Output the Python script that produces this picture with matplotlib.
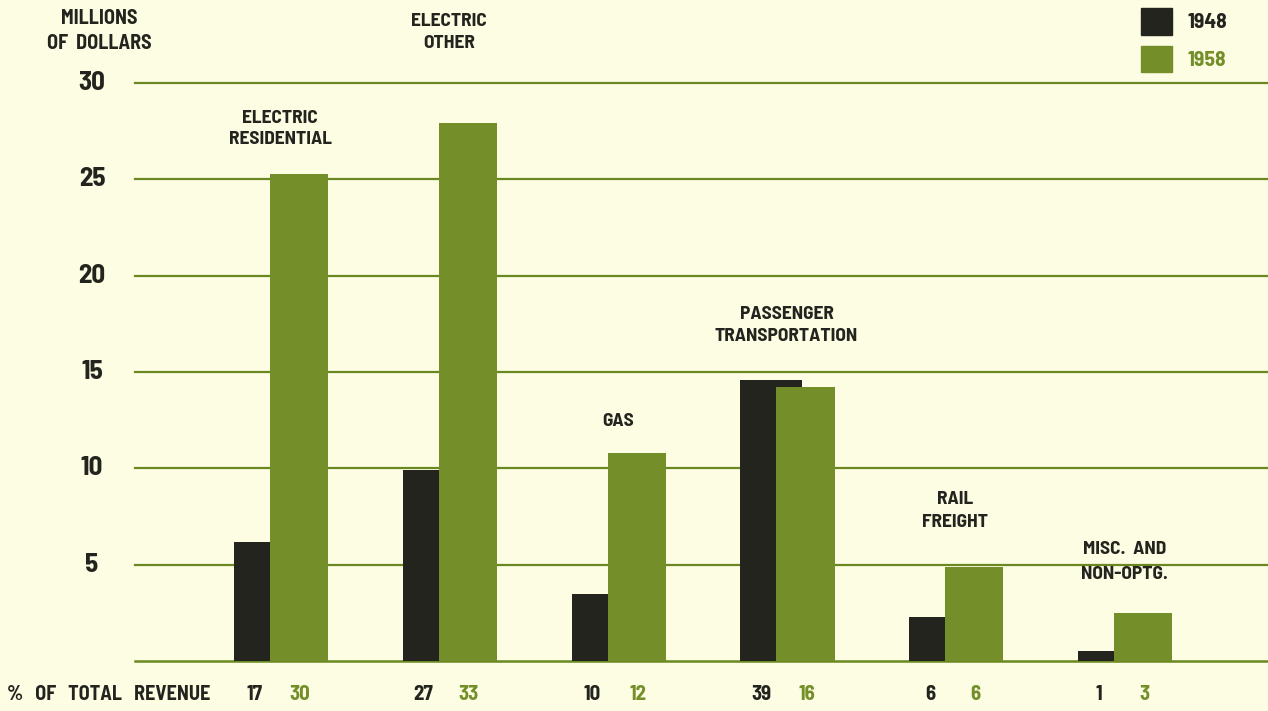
import matplotlib.pyplot as plt
from matplotlib.patches import Rectangle
import numpy as np

# Revenue by service, millions of dollars
categories = ["ELECTRIC\nRESIDENTIAL", "ELECTRIC\nOTHER", "GAS",
              "PASSENGER\nTRANSPORTATION", "RAIL\nFREIGHT", "MISC.  AND\nNON-OPTG."]
rev_1948 = [6.2, 9.9, 3.5, 14.6, 2.3, 0.5]
rev_1958 = [25.3, 27.9, 10.8, 14.2, 4.9, 2.5]
pct_1948 = [17, 27, 10, 39, 6, 1]
pct_1958 = [30, 33, 12, 16, 6, 3]
yticks = [5, 10, 15, 20, 25, 30]

# caption heights (in $M) for each category
label_y = [27.62, 32.62, 12.45, 17.4, 7.8, 5.15]
label_gap = [1.35, 1.45, 1.3, 1.4, 1.45, 1.65]

bg = "#fdfde4"
dark = "#24241f"
green = "#748f29"
line_green = "#6a881f"

plt.rcParams["font.family"] = ["Barlow Semi Condensed", "Barlow Condensed", "DejaVu Sans"]
plt.rcParams["font.weight"] = "bold"

W, H = 1268, 711
fig = plt.figure(figsize=(W / 100, H / 100), dpi=100, facecolor=bg)
ax = fig.add_axes([135 / W, (H - 661) / H, 1 - 135 / W, (661 - 83) / H])
ax.set_facecolor("none")

x = np.arange(len(categories))
for v in yticks:
    ax.axhline(v, color=line_green, lw=1.6, zorder=0, clip_on=False)
ax.axhline(0, color=line_green, lw=1.8, zorder=0, clip_on=False)

ax.bar(x - 0.213, rev_1948, width=0.367, align="edge", color=dark, zorder=2)
ax.bar(x, rev_1958, width=0.344, align="edge", color=green, zorder=3)

ax.set_xlim(-0.80, 5.912)
ax.set_ylim(0, 30)
for s in ax.spines.values():
    s.set_visible(False)
ax.set_xticks([])
ax.set_yticks([])

# y tick labels to the left of the gridlines
for v in yticks:
    ax.text(-1.055, v, str(v), ha="center", va="center", fontsize=19.5,
            color=dark, clip_on=False)

# category captions
for xi, name, ly, gap in zip(x, categories, label_y, label_gap):
    ax.text(xi + 0.06, ly, name, ha="center", va="center", fontsize=14,
            color=dark, linespacing=gap, clip_on=False)

ax.text(-1.01, 32.7, "MILLIONS\nOF  DOLLARS", ha="center", va="center",
        fontsize=14.5, color=dark, linespacing=1.45, clip_on=False)

# share of total revenue along the bottom
ax.text(-1.56, -1.76, "%   OF   TOTAL   REVENUE", ha="left", va="center",
        fontsize=14.5, color=dark, clip_on=False)
for xi, a, b in zip(x, pct_1948, pct_1958):
    ax.text(xi - 0.09, -1.76, str(a), ha="center", va="center", fontsize=15,
            color=dark, clip_on=False)
    ax.text(xi + 0.178, -1.76, str(b), ha="center", va="center", fontsize=15,
            color=green, clip_on=False)

# legend in the top right corner
fig.add_artist(Rectangle((1141 / W, (H - 35) / H), 31 / W, 27 / H,
                         transform=fig.transFigure, color=dark))
fig.add_artist(Rectangle((1141 / W, (H - 72) / H), 31 / W, 26 / H,
                         transform=fig.transFigure, color=green))
fig.text(1188 / W, (H - 22) / H, "1948", ha="left", va="center",
         fontsize=15.5, color=dark)
fig.text(1188 / W, (H - 60) / H, "1958", ha="left", va="center",
         fontsize=15.5, color=green)

fig.savefig("out.png", dpi=100, facecolor=bg)
